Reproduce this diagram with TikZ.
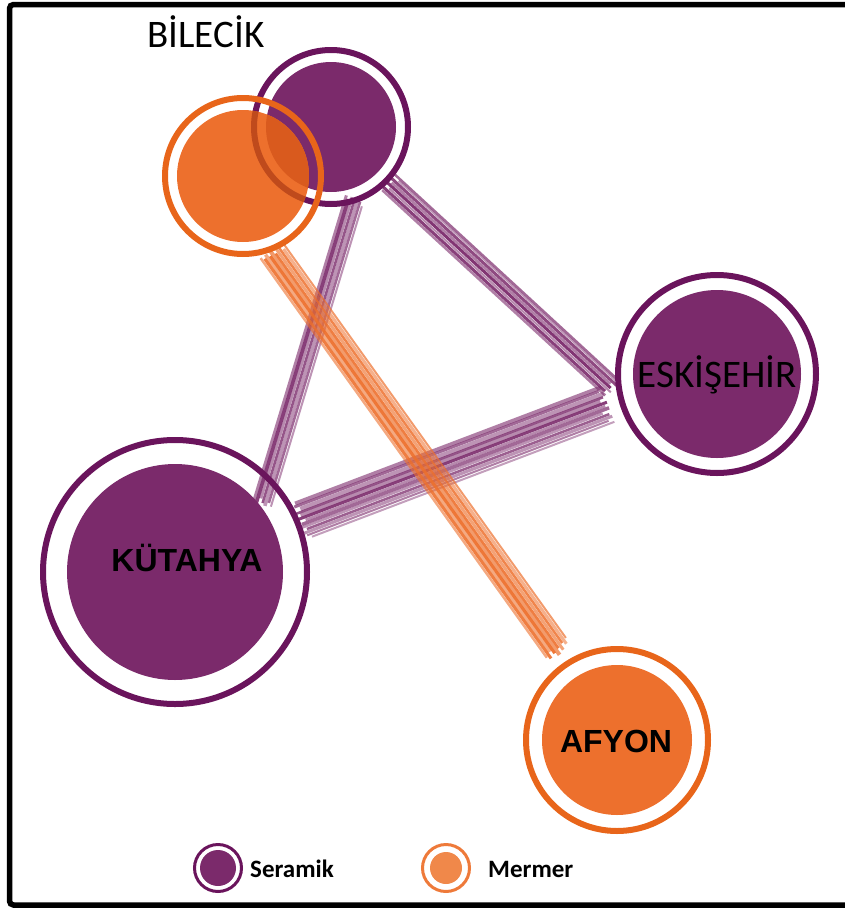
\documentclass[tikz,border=0pt]{standalone}
\usepackage{fontspec}
\setmainfont{Carlito}
\newfontfamily\arialfont{Liberation Sans}
\usetikzlibrary{calc,backgrounds}
\definecolor{serfill}{HTML}{7B2A6B}
\definecolor{serring}{HTML}{6A145C}
\definecolor{merfill}{HTML}{ED702D}
\definecolor{merring}{HTML}{E8651A}
\definecolor{mixfill}{HTML}{D95A1E}
\definecolor{mixring}{HTML}{BF4A1C}
\definecolor{legfill}{HTML}{F0884A}
\definecolor{legring}{HTML}{EE7A3A}
\tikzset{
  serdot/.style={circle, fill=serfill, inner sep=0pt},
  merdot/.style={circle, fill=merfill, inner sep=0pt},
  legdot/.style={circle, fill=legfill, inner sep=0pt},
  serline/.style={draw=serring, line width=6pt},
  merline/.style={draw=merring, line width=6pt},
  serlink/.style={draw=serfill},
  merlink/.style={draw=merfill},
  citylabel/.style={font=\fontsize{39}{44}\selectfont, anchor=base, inner sep=0pt},
  arlabel/.style={font=\arialfont\bfseries\fontsize{32}{38}\selectfont, anchor=base, inner sep=0pt},
  leglabel/.style={font=\bfseries\fontsize{25}{30}\selectfont, anchor=base west, inner sep=0pt},
}
\begin{document}
\begin{tikzpicture}[x=1pt,y=-1pt]
  \useasboundingbox (0,0) rectangle (844,908);
  \draw[line width=5.5pt, rounded corners=4pt] (9.5,4.5) rectangle (880,905);

  % cities
  \node[serdot, minimum size=130pt] (bilS) at (331,127) {};
  \draw[serline] (bilS) circle[radius=77];
  \node[merdot, minimum size=132pt] (bilM) at (243,176) {};
  \begin{scope}
    \clip (bilM) circle[radius=66];
    \fill[mixfill] (bilS) circle[radius=65];
    \draw[draw=mixring, line width=6pt] (bilS) circle[radius=77];
  \end{scope}
  \draw[merline] (bilM) circle[radius=78];

  \node[serdot, minimum size=168pt] (esk) at (717,374) {};
  \draw[serline] (esk) circle[radius=99];
  \node[serdot, minimum size=216pt] (kut) at (175,572) {};
  \draw[serline] (kut) circle[radius=132];
  \node[merdot, minimum size=150pt] (afy) at (617,740) {};
  \draw[merline] (afy) circle[radius=91];

  \node[citylabel] (bilText) at (206,47) {BİLECİK};
  \node[citylabel] (eskText) at (717,387) {ESKİŞEHİR};
  \node[arlabel] (kutText) at (187,571) {KÜTAHYA};
  \node[arlabel] (afyText) at (616,752) {AFYON};

  % bundle ends
  \coordinate (bilA) at ($(bilS)+(55,53)$);
  \coordinate (eskA) at ($(esk)+(-105,14)$);
  \coordinate (eskB) at ($(esk)+(-109,31)$);
  \coordinate (kutB) at ($(kut)+(125,-50)$);
  \coordinate (bilC) at ($(bilS)+(24,71)$);
  \coordinate (kutC) at ($(kut)+(87,-67)$);
  \coordinate (bilD) at ($(bilM)+(29,74)$);
  \coordinate (afyD) at ($(afy)+(-57,-88)$);

  \begin{scope}[on background layer]
    \foreach \o/\op/\w/\s/\e in {-10pt/0.6/2.5/4/0, -7pt/0.9/3/0/3, -4pt/0.55/2/8/-2,
        -1pt/0.95/3/2/1, 2pt/0.6/2.5/6/4, 5pt/0.85/3/0/-3, 8pt/0.5/2/10/2, 10pt/0.7/2.5/3/0}
      \draw[serlink, line width=\w, draw opacity=\op, shorten <=\s, shorten >=\e]
        ($(bilA)!\o!90:(eskA)$) -- ($(eskA)!\o!-90:(bilA)$);
    \foreach \o/\op/\w/\s/\e in {-19pt/0.6/4/0/2, -16pt/0.7/3/4/0, -12pt/0.5/4.5/0/5,
        -9pt/0.8/2.5/2/-2, -6pt/0.55/4/6/3, -3pt/0.9/3/0/0, 0pt/0.55/2.5/3/6, 3pt/0.7/3.5/0/1,
        6pt/0.5/2.5/8/-3, 9pt/0.75/2.5/2/4, 12pt/0.5/3/0/0, 15pt/0.6/2/5/2, 18pt/0.45/2/0/6}
      \draw[serlink, line width=\w, draw opacity=\op, shorten <=\s, shorten >=\e]
        ($(eskB)!\o!90:(kutB)$) -- ($(kutB)!\o!-90:(eskB)$);
    \foreach \o/\op/\w/\s/\e in {-9pt/0.6/3/0/3, -6pt/0.9/3.5/3/0, -3pt/0.55/3/0/6,
        0pt/0.8/2.5/5/2, 3pt/0.5/3.5/0/0, 6pt/0.7/2.5/2/4, 9pt/0.5/2/6/1}
      \draw[serlink, line width=\w, draw opacity=\op, shorten <=\s, shorten >=\e]
        ($(bilC)!\o!90:(kutC)$) -- ($(kutC)!\o!-90:(bilC)$);
    \foreach \o/\op/\w/\s/\e in {-14pt/0.6/2.5/0/3, -11pt/0.9/3/3/0, -8pt/0.6/3.5/0/6,
        -5pt/0.95/3/4/2, -2pt/0.7/4/0/-2, 1pt/0.9/2.5/5/4, 4pt/0.65/3/0/0, 7pt/0.85/2.5/2/6,
        10pt/0.55/3/6/3, 13pt/0.7/2/0/8}
      \draw[merlink, line width=\w, draw opacity=\op, shorten <=\s, shorten >=\e]
        ($(bilD)!\o!90:(afyD)$) -- ($(afyD)!\o!-90:(bilD)$);
  \end{scope}

  % legend
  \node[serdot, minimum size=36pt] (legS) at (218,868) {};
  \draw[draw=serring, line width=3pt] (legS) circle[radius=23.5];
  \node[leglabel] (serText) at (250,877) {Seramik};
  \node[legdot, minimum size=32pt] (legM) at (446,868) {};
  \draw[draw=legring, line width=3pt] (legM) circle[radius=23.5];
  \node[leglabel] (merText) at (488,877) {Mermer};
\end{tikzpicture}
\end{document}
